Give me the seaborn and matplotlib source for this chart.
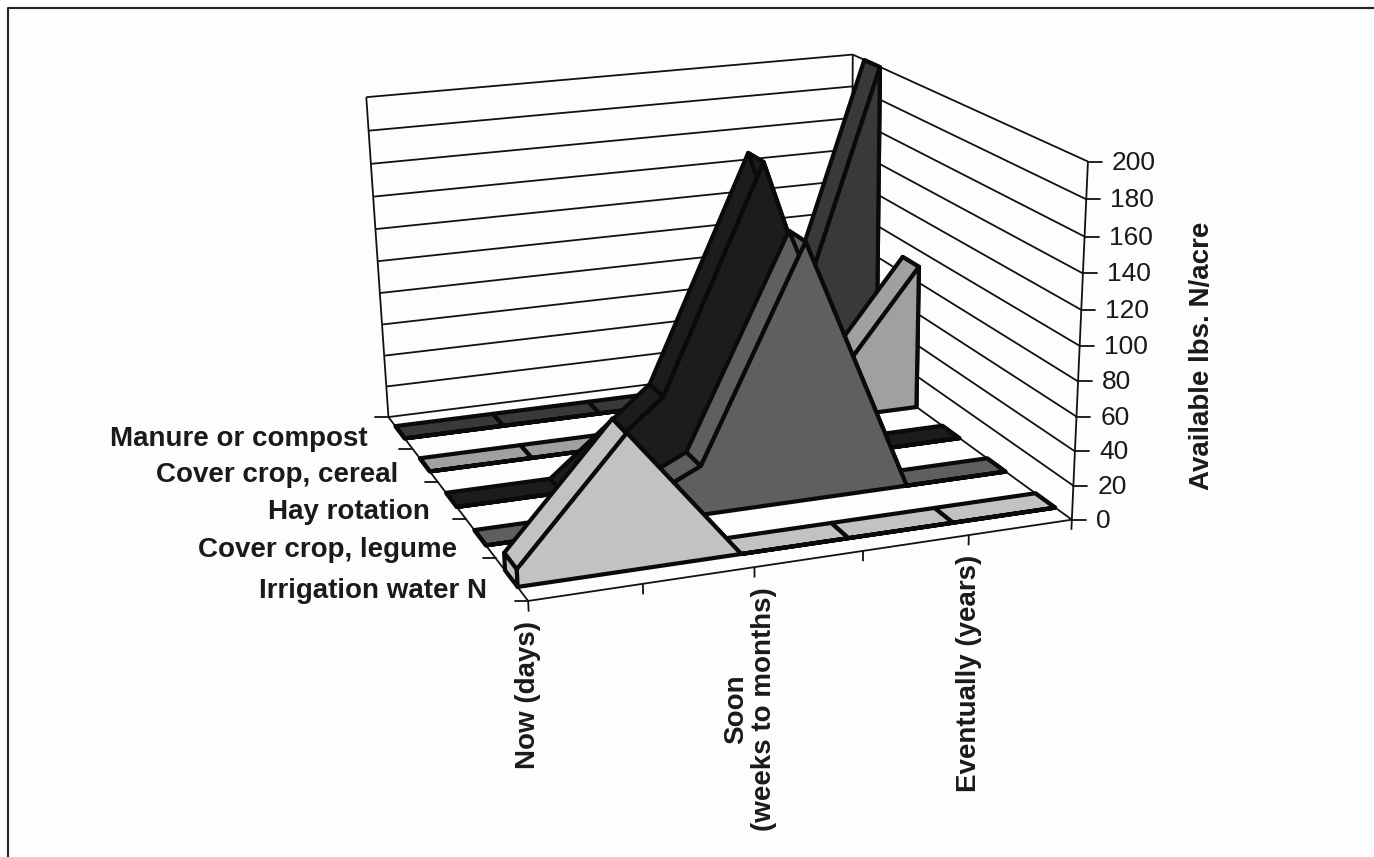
import numpy as np
import matplotlib
matplotlib.use("Agg")
import matplotlib.pyplot as plt
import seaborn as sns
from matplotlib.lines import Line2D
from mpl_toolkits.mplot3d.art3d import Line3DCollection, Poly3DCollection

W, H = 1374, 857

# series run front to back
series_names = ["Irrigation water N", "Cover crop, legume", "Hay rotation",
                "Cover crop, cereal", "Manure or compost"]
irrigation = [10, 77, 0, 0, 0, 0]
legume = [0, 0, 29, 150, 0, 0]
hay = [0, 0, 50, 180, 0, 0]
cereal = [0, 0, 0, 0, 15, 90]
manure = [0, 0, 0, 0, 25, 200]
series_values = [irrigation, legume, hay, cereal, manure]
series_colors = ["#c2c2c2", "#5f5f5f", "#1c1c1c", "#a0a0a0", "#393939"]

time_ticks = [0, 1, 2, 3, 4, 5]
time_labels = {0: "Now (days)", 2: "Soon\n(weeks to months)", 4: "Eventually (years)"}
value_ticks = list(range(0, 201, 20))

# hand nudges (px) for the series labels, the scan does not follow the axis exactly
label_dx = [-25, -23, -22, -27, -33]
label_dy = [12, 12, 12, 10, 6]

sns.set_theme(style="white")
plt.rcParams["font.family"] = ["Liberation Sans", "DejaVu Sans"]
palette = sns.color_palette(series_colors)

# camera: where the box corners of the chart land in the picture
box_3d = [(0, 0, 0), (5, 0, 0), (0, 5, 0), (5, 5, 0), (0, 5, 200), (5, 5, 200), (5, 0, 200)]
box_px = [(529, 600), (1071, 522), (388, 418), (851, 357), (366, 97), (853, 56), (1088, 160)]


def fit_camera(pts, px):
    rows, rhs = [], []
    for (x, y, z), (u, v) in zip(pts, px):
        rows.append([x, y, z, 1, 0, 0, 0, 0, -u * x, -u * y, -u * z])
        rows.append([0, 0, 0, 0, x, y, z, 1, -v * x, -v * y, -v * z])
        rhs += [u, v]
    h = np.linalg.lstsq(np.array(rows, float), np.array(rhs, float), rcond=None)[0]
    return np.append(h, 1).reshape(3, 4)


CAM = fit_camera(box_3d, box_px)


def to_px(t, s, v):
    p = CAM @ np.array([t, s, v, 1.0])
    return p[0] / p[2], p[1] / p[2]


fig = plt.figure(figsize=(W / 100, H / 100), dpi=100, facecolor="#fdfdfd")
# Axes3D forces a square box, so make it as wide as the figure
ax = fig.add_axes([0, (H - W) / 2 / H, 1, W / H], projection="3d", computed_zorder=False)
ax.set_axis_off()
ax.patch.set_visible(False)


def get_proj():
    flip = np.array([[1, 0, 0], [0, -1, H], [0, 0, 1]], float)
    p = ax.transData.inverted().get_matrix() @ flip @ CAM
    return np.array([p[0], p[1], [0, 1e-4, 0, 0], p[2]])


ax.get_proj = get_proj

# walls, floor edges and axis ticks
segments = []
for v in value_ticks:
    segments.append([(0, 5, v), (5, 5, v)])
    segments.append([(5, 5, v), (5, 0, v)])
segments.append([(0, 5, 0), (0, 5, 200)])
segments.append([(5, 5, 0), (5, 5, 200)])
segments.append([(5, 0, -6), (5, 0, 200)])
segments.append([(0, 0, 0), (5, 0, 0)])
segments.append([(0, 0, 0), (0, 5, 0)])
for t in time_ticks[:-1]:
    segments.append([(t, 0, -6), (t, 0, 0)])
ax.add_collection3d(Line3DCollection(segments, colors="#111111", linewidths=1.3, zorder=1))

z = 2
line_kw = dict(edgecolors="#0a0a0a", linewidths=3.0)
for k in range(len(series_values) - 1, -1, -1):
    vals = series_values[k]
    color = palette[k]
    s_front, s_back = k + 0.33, k + 0.72
    # right end cap goes first, the ribbons cover it
    polys = [[(5, s_front, 0), (5, s_back, 0), (5, s_back, vals[-1]), (5, s_front, vals[-1])]]
    # floor and top ribbons, one per segment
    for i in range(len(vals) - 1):
        polys.append([(i, s_front, vals[i]), (i + 1, s_front, vals[i + 1]),
                      (i + 1, s_back, vals[i + 1]), (i, s_back, vals[i])])
    polys.append([(0, s_front, 0), (0, s_back, 0), (0, s_back, vals[0]), (0, s_front, vals[0])])
    # front face last so it hides the falling ribbons
    face = [(0, s_front, 0)] + [(i, s_front, v) for i, v in enumerate(vals)] + [(5, s_front, 0)]
    polys.append(face)
    for poly in polys:
        ax.add_collection3d(Poly3DCollection([poly], facecolors=[color], zorder=z, **line_kw))
        z += 1


def tick2d(t, s, v, dx, dy):
    x, y = to_px(t, s, v)
    fig.add_artist(Line2D([x / W, (x + dx) / W], [1 - y / H, 1 - (y + dy) / H],
                          transform=fig.transFigure, color="#111111", lw=1.3))
    return x + dx, y + dy


for v in value_ticks:
    x, y = tick2d(5, 0, v, 14, 0)
    fig.text((x + 10) / W, 1 - (y + 1) / H, str(v), fontsize=19, color="#1a1a1a",
             ha="left", va="center")

for s in range(0, 6):
    tick2d(0, s, 0, -13, 0)

for k, name in enumerate(series_names):
    x, y = to_px(0, k + 0.5, 0)
    fig.text((x + label_dx[k]) / W, 1 - (y + label_dy[k]) / H, name, fontsize=20,
             fontweight="bold", color="#1a1a1a", ha="right", va="center")

for t, label in time_labels.items():
    x, y = to_px(t, 0, 0)
    if "\n" in label:
        x -= 4
    fig.text(x / W, 1 - (y + 20) / H, label, fontsize=20, fontweight="bold",
             color="#1a1a1a", rotation=90, ha="center", va="top", multialignment="center",
             linespacing=1.1)

fig.text(1202 / W, 1 - 356 / H, "Available lbs. N/acre", fontsize=20, fontweight="bold",
         color="#1a1a1a", rotation=90, ha="center", va="center")

# page frame, only the top and left rules are in the scan
fig.add_artist(Line2D([8 / W, 8 / W, 1], [0, 1 - 8 / H, 1 - 8 / H], transform=fig.transFigure,
                      color="#222222", lw=1.5))

fig.savefig("out.png", dpi=100, facecolor=fig.get_facecolor())
